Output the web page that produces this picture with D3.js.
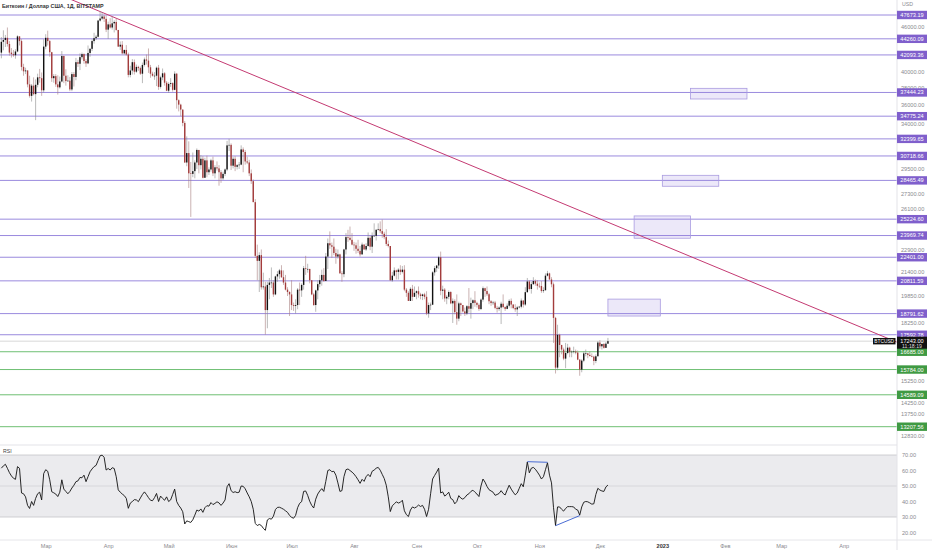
<!DOCTYPE html>
<html><head><meta charset="utf-8">
<script src="https://cdn.jsdelivr.net/npm/d3@7/dist/d3.min.js"></script>
<style>body{margin:0;background:#fff}svg{display:block}</style>
</head><body><svg id="c" width="932" height="550"></svg>
<script>
// ---------- DATA ----------
const title = "Биткоин / Доллар США, 1Д, BITSTAMP";
const firstDay = [2022, 1, 7]; // 7 Feb 2022, one candle per day
// [open, high, low, close]
const ohlc = [
// Feb
[42400,44500,41650,43850],[43850,45450,42700,44100],[44100,44800,43150,44400],[44400,45850,43200,43550],
[43550,43950,42000,42400],[42400,43000,41750,42200],[42200,42750,41850,42050],[42050,42850,41600,42550],
[42550,44750,42450,44600],[44600,44600,43350,43950],[43950,44200,40100,40550],[40550,40950,39450,40000],
[40000,40450,39650,40100],[40100,40150,38050,38400],[38400,39450,36850,37050],[37050,38450,36400,38250],
[38250,39250,37100,37250],[37250,39000,34350,38350],[38350,39700,38050,39250],[39250,40300,38600,39150],
[39150,39850,37050,37700],[37700,44200,37450,43200],
// Mar
[43200,44900,42850,44400],[44400,45400,43350,43950],[43950,44100,41850,42450],[42450,42500,38700,39150],
[39150,39650,38600,39400],[39400,39650,38100,38400],[38400,39500,37200,38050],[38050,39350,37900,38750],
[38750,42600,38650,41950],[41950,42000,38550,39450],[39450,40250,38250,38800],[38800,39500,38700,38850],
[38850,39300,37600,37800],[37800,39900,37600,39650],[39650,39900,38150,39300],[39300,41700,38900,41150],
[41150,41450,40550,40950],[40950,42300,40150,41800],[41800,42400,41500,42200],[42200,42300,40950,41300],
[41300,41550,40550,41000],[41000,43350,40900,42350],[42350,43000,41850,42900],[42900,44200,42600,43950],
[43950,45100,43600,44350],[44350,44800,44100,44550],[44550,46950,44450,46850],[46850,48190,46700,47150],
[47150,48100,46950,47450],[47450,47700,46650,47100],[47100,47600,45200,45550],
// Apr
[45550,46700,44250,46300],[46300,47200,45700,45850],[45850,47450,45550,46450],[46450,46900,45150,46650],
[46650,47150,45400,45500],[45500,45500,43150,43200],[43200,43900,42750,43450],[43450,43950,42150,42300],
[42300,42800,42150,42750],[42750,43400,42000,42150],[42150,42400,39250,39550],[39550,40700,39250,40100],
[40100,41550,39600,41150],[41150,41500,39600,39950],[39950,40850,39800,40550],[40550,40700,40050,40400],
[40400,40600,39550,39700],[39700,41100,38550,40800],[40800,41750,40600,41500],[41500,42150,40850,41350],
[41350,42950,39800,40500],[40500,40800,39200,39700],[39700,39950,39350,39450],[39450,39900,38950,39450],
[39450,40600,38200,40450],[40450,40800,37750,38100],[38100,39450,37900,39250],[39250,40350,38900,39750],
[39750,39900,38250,38600],[38600,38800,37600,37650],
// May
[37650,38650,37400,38450],[38450,39150,38100,38550],[38550,38650,37550,37750],[37750,40000,37700,39700],
[39700,39800,35600,36550],[36550,36650,35300,36050],[36050,36150,34800,35500],[35500,35500,33700,34050],
[34050,34250,30050,30100],[30100,32650,29750,31000],[31000,32150,27800,29100],[29100,30150,25400,29050],
[29050,31050,28750,29300],[29300,30300,28650,30100],[30100,31450,29500,31300],[31300,31300,29100,29850],
[29850,30800,29450,30450],[30450,30700,28650,28700],[28700,30550,28700,30300],[30300,30750,28750,29200],
[29200,29650,28950,29450],[29450,30450,29250,30300],[30300,30650,28850,29100],[29100,29850,28650,29650],
[29650,30200,29350,29550],[29550,29850,28000,29200],[29200,29400,28250,28650],[28650,29250,28500,29050],
[29050,29550,28850,29450],[29450,32200,29300,31750],[31750,32400,31200,31800],
// Jun
[31800,31950,29400,29800],[29800,30650,29550,30450],[30450,30700,29300,29700],[29700,29950,29450,29850],
[29850,30150,29500,29900],[29900,31750,29850,31350],[31350,31550,29200,31100],[31100,31300,29900,30200],
[30200,30650,29950,30100],[30100,30350,28850,29100],[29100,29450,28150,28400],[28400,28550,26600,26600],
[26600,26850,22350,22500],[22500,23300,20850,22150],[22150,22750,20100,22550],[22550,22950,20250,20400],
[20400,21350,20250,20450],[20450,20750,17600,19000],[19000,20750,17950,20550],[20550,21000,19650,20700],
[20700,21700,20350,20700],[20700,20850,19800,19950],[19950,21150,19900,21100],[21100,21450,20750,21250],
[21250,21600,20950,21500],[21500,21850,21000,21050],[21050,21500,20550,20700],[20700,21200,20200,20250],
[20250,20400,19850,20100],[20100,20150,18650,19950],
// Jul
[19950,20850,19000,19300],[19300,19450,18950,19250],[19250,19650,18800,19300],[19300,20350,19050,20250],
[20250,20700,19300,20200],[20200,20650,19800,20550],[20550,21800,20250,21650],[21650,22500,21200,21600],
[21600,21950,21350,21600],[21600,21600,20650,20850],[20850,20850,19900,19950],[19950,20050,19250,19300],
[19300,20250,18900,20200],[20200,20850,19650,20600],[20600,21200,20400,20850],[20850,21550,20500,21200],
[21200,21650,20750,20800],[20800,22700,20800,22450],[22450,23750,21600,23400],[23400,24280,23000,23250],
[23250,23450,22350,23150],[23150,23750,22550,22700],[22700,23000,21950,22450],[22450,22950,22300,22600],
[22600,22650,21300,21300],[21300,21450,20750,21250],[21250,23000,21050,22950],[22950,24150,22600,23850],
[23850,24400,23500,23800],[23800,24650,23600,23650],[23650,24150,23250,23300],
// Aug
[23300,23500,22850,23250],[23250,23450,22650,23000],[23000,23650,22700,22850],[22850,23200,22450,22600],
[22600,23450,22600,23300],[23300,23350,22950,22950],[22950,23400,22850,23200],[23200,24200,23150,23800],
[23800,23950,22900,23150],[23150,24200,22700,23950],[23950,24900,23900,23950],[23950,24450,23600,24400],
[24400,24900,24350,24450],[24450,25050,24150,24300],[24300,25200,23800,24100],[24100,24250,23700,23850],
[23850,24450,23200,23350],[23350,23600,23100,23200],[23200,23200,20800,20850],[20850,21400,20750,21150],
[21150,21700,21100,21500],[21500,21550,20900,21400],[21400,21650,20900,21550],[21550,21850,21200,21400],
[21400,21800,21300,21550],[21550,21850,20150,20250],[20250,20350,19800,20050],[20050,20150,19550,19550],
[19550,20400,19550,20300],[20300,20550,19550,19800],[19800,20450,19800,20050],
// Sep
[20050,20200,19650,20150],[20150,20450,19750,19950],[19950,20050,19650,19850],[19850,20000,19600,19950],
[19950,20050,19650,19800],[19800,20150,18700,18800],[18800,19450,18550,19300],[19300,19450,19000,19320],
[19320,21450,19300,21370],[21370,21800,21150,21650],[21650,21850,21400,21830],[21830,22500,21600,22400],
[22400,22800,19900,20180],[20180,20500,19650,20250],[20250,20350,19500,19700],[19700,19900,19350,19800],
[19800,20200,19650,20100],[20100,20150,19350,19400],[19400,19700,18250,19550],[19550,19650,18750,18880],
[18880,19950,18150,18500],[18500,19500,18350,19400],[19400,19450,18650,19300],[19300,19300,18850,18920],
[18920,19150,18650,18800],[18800,19300,18700,19230],[19230,20350,18850,19080],[19080,19750,18500,19420],
[19420,19650,19050,19590],[19590,20150,19200,19430],
// Oct
[19430,19500,19150,19310],[19310,19400,18950,19060],[19060,19700,19000,19630],[19630,20450,19500,20340],
[20340,20370,19800,20160],[20160,20450,19850,19960],[19960,20050,19350,19530],[19530,19600,19250,19420],
[19420,19550,19300,19450],[19450,19550,19050,19130],[19130,19250,18850,19060],[19060,19220,18950,19150],
[19150,19500,18190,19380],[19380,19950,19100,19180],[19180,19220,18950,19070],[19070,19400,19050,19260],
[19260,19650,19150,19550],[19550,19700,19100,19330],[19330,19350,19050,19120],[19120,19350,18900,19040],
[19040,19250,18650,19160],[19160,19250,19100,19200],[19200,19700,19100,19570],[19570,19600,19150,19330],
[19330,20400,19250,20090],[20090,21000,20050,20770],[20770,20850,20200,20290],[20290,20750,20000,20600],
[20600,21050,20550,20800],[20800,20900,20500,20630],[20630,20850,20250,20490],
// Nov
[20490,20700,20350,20480],[20480,20800,20050,20160],[20160,20400,20050,20210],[20210,21300,20200,21150],
[21150,21470,21100,21300],[21300,21350,20900,20900],[20900,21050,20400,20590],[20590,20700,17150,18540],
[18540,18600,15590,15880],[15880,18150,15750,17590],[17590,17650,16400,17040],[17040,17050,16550,16800],
[16800,16900,16250,16330],[16330,17150,15850,16620],[16620,17100,16550,16900],[16900,16950,16400,16660],
[16660,16750,16400,16690],[16690,16950,16600,16700],[16700,16800,16550,16640],[16640,16750,16250,16280],
[16280,16300,15480,15780],[15780,16300,15650,16230],[16230,16700,16150,16600],[16600,16800,16450,16600],
[16600,16620,16350,16520],[16520,16700,16450,16460],[16460,16600,16400,16430],[16430,16480,16000,16210],
[16210,16550,16100,16450],[16450,17250,16450,17170],
// Dec
[17170,17300,16850,16970],[16970,17100,16800,17090],[17090,17150,16850,16890],[16890,17200,16880,17110],
[17110,17420,17100,17243]
];
// RSI(14), one value per candle
const rsi = [
61.5,63,64,61.4,58.6,56.5,55,54.3,62.5,61.4,
45.5,45,43,37.5,35.5,40,37.5,42,45,46,
41,58,60.5,59.5,54,46.3,45.6,44.8,43.2,46,
54,48,46.5,45,46.5,48.7,50.5,52.8,53.3,55.5,
55.3,57,52.8,56,59.2,61,62.5,63.3,66.5,69.5,
69.9,68.5,60.3,61.3,60.3,61.8,61.3,56,47.5,46,
44.8,43.8,42,35.6,39,40,41.2,41,39.9,42.3,
44.5,46.2,44.5,42.5,40.8,40.5,42.5,45.2,40,43.5,
42,40.8,43,40,41,44.5,48,40,37.5,35.8,
33.4,25.5,27.5,27,26.5,28.2,31.2,34.5,33.8,35.2,
33,36,37.3,37,39.3,38,38.8,39.8,39.1,37.5,
39,41,49.5,51.5,47,45.8,46.3,45.7,46,50,
49.8,48.2,45.5,43,40,35,25.8,24.5,25.2,24.5,
22.7,21.4,28.1,29,28.6,30.5,34.8,36.2,36.3,35.7,
35,34,33,31,29.8,29.2,31,36,38.8,39.9,
46.5,46.8,44,40.2,37.5,35.8,41.5,44.8,46.8,48.3,
46.5,53,60,60.5,59.2,59.5,57,52,46.5,47,
56,60.5,61,60,59,57.7,56,54,51.7,54.3,
53,56,57.5,56,59.5,60.3,61.5,62,60.2,57.5,
54.8,50.5,43,33.5,37.2,38.5,39.8,39,39.5,40.8,
34,31.5,30.3,34.5,36.5,35.8,36.5,37.7,36.8,37.5,
35,30.3,35,45,54.5,56.8,59,61.5,45.5,46.2,
43.5,44.5,46,42,41.2,38.5,40,43.8,42.2,41.5,
42.5,44.2,45,46.5,47.3,46,44.8,43.2,50,54.5,
52.5,49.7,47.6,46.8,46,44,44.5,45.2,47,45.2,
44.2,47.5,50.5,48,46,44.3,45.5,48.5,51.5,49.5,
57,65.5,58.5,61.5,62,60.8,59,57,54.5,56,
60.5,65,57,52,36,24.5,36.5,36.5,35,33.8,
35.5,36.7,36.7,36.7,36.5,35,34.5,31.2,36.5,39.5,
40,39.8,39.1,38.3,38.5,44.5,48.5,47.4,46.8,46.5,
49.4,50.6
];
const purpleLevels = [47673.19,44260.09,42093.36,37444.23,34775.24,32399.65,30718.66,28465.49,25224.60,23969.74,22401.00,20811.59,18791.62,17592.78];
const greenLevels = [16685.00,15784.00,14589.09,13207.56];
// axis ticks that remain readable next to the level labels
const priceTicks = [46000,40000,38000,36000,34000,29500,27300,26100,22900,21400,19850,18250,15250,14250,13750,12830];
const rsiTicks = [20,30,40,50,60,70];
const rsiBands = [70,50,30];
const monthDates = ["2022-03-01","2022-04-01","2022-05-01","2022-06-01","2022-07-01","2022-08-01","2022-09-01","2022-10-01","2022-11-01","2022-12-01","2023-01-01","2023-02-01","2023-03-01","2023-04-01"];
const monthLabels = ["Мар","Апр","Май","Июн","Июл","Авг","Сен","Окт","Ноя","Дек","2023","Фев","Мар","Апр"];
const zoneFrom = ["2023-01-15","2023-01-01","2022-12-18","2022-12-05"];
const zoneTo   = ["2023-02-12","2023-01-29","2023-01-15","2022-12-31"];
const zoneLow  = [36690,27950,23770,18650];
const zoneHigh = [37930,28920,25480,19660];
const trendDates = ["2022-03-28","2023-04-25"];
const trendPrices = [48190,17300];
const divTopDates = ["2022-10-26","2022-11-05"], divTopVals = [65.7,65.3];
const divBotDates = ["2022-11-09","2022-11-21"], divBotVals = [24.4,30.9];
const lastPrice = 17243.00, lastTime = "11:18:19", symbol = "BTCUSD";

// ---------- LAYOUT ----------
const W = 932, H = 550, plotR = 897, mainB = 445, rsiT = 445, rsiB = 540;
const font = "'Liberation Sans', Arial, sans-serif";
const svg = d3.select("#c").attr("font-family", font);
const parse = s => new Date(s + "T00:00:00Z");
const dates = ohlc.map((_, i) => new Date(Date.UTC(firstDay[0], firstDay[1], firstDay[2] + i)));

const x = d3.scaleUtc().domain([parse("2022-03-01"), parse("2023-04-01")]).range([45.7, 843.7]);
const y = d3.scaleLog().domain([13207.56, 47673.19]).range([426.7, 15]);
const yr = d3.scaleLinear().domain([30, 70]).range([517, 455]);

const defs = svg.append("defs");
defs.append("clipPath").attr("id", "cm").append("rect").attr("x", 0).attr("y", 0).attr("width", plotR).attr("height", mainB);
defs.append("clipPath").attr("id", "cr").append("rect").attr("x", 0).attr("y", rsiT).attr("width", plotR).attr("height", rsiB - rsiT);

svg.append("rect").attr("width", W).attr("height", H).attr("fill", "#fff");

// ---------- MAIN PANE ----------
const main = svg.append("g").attr("clip-path", "url(#cm)");

main.selectAll(".pl").data(purpleLevels).join("line")
  .attr("x1", 0).attr("x2", plotR).attr("y1", d => y(d)).attr("y2", d => y(d))
  .attr("stroke", "#9a8ade").attr("stroke-width", 1);
main.selectAll(".gl").data(greenLevels).join("line")
  .attr("x1", 0).attr("x2", plotR).attr("y1", d => y(d)).attr("y2", d => y(d))
  .attr("stroke", "#6fbf73").attr("stroke-width", 1);

main.selectAll(".zone").data(zoneFrom).join("rect")
  .attr("x", (d, i) => x(parse(d)))
  .attr("width", (d, i) => x(parse(zoneTo[i])) - x(parse(d)))
  .attr("y", (d, i) => y(zoneHigh[i]))
  .attr("height", (d, i) => y(zoneLow[i]) - y(zoneHigh[i]))
  .attr("fill", "rgba(149,128,220,0.18)").attr("stroke", "#a99be0").attr("stroke-width", 0.8);

main.append("line").attr("x1", 0).attr("x2", plotR).attr("y1", y(lastPrice)).attr("y2", y(lastPrice))
  .attr("stroke", "#c8c8c8").attr("stroke-width", 0.7);

{
  const ax = x(parse(trendDates[0])), ay = y(trendPrices[0]);
  const bx = x(parse(trendDates[1])), by = y(trendPrices[1]);
  const k = (by - ay) / (bx - ax);
  main.append("line").attr("x1", 0).attr("y1", ay + k * (0 - ax)).attr("x2", plotR).attr("y2", ay + k * (plotR - ax))
    .attr("stroke", "#c43a72").attr("stroke-width", 1);
}

const cg = main.append("g");
const bw = 1.4;
cg.selectAll(".wick").data(ohlc).join("line")
  .attr("x1", (d, i) => x(dates[i])).attr("x2", (d, i) => x(dates[i]))
  .attr("y1", d => y(d[1])).attr("y2", d => y(d[2]))
  .attr("stroke", d => d[3] >= d[0] ? "#8c8c8c" : "#a88080").attr("stroke-width", 0.6);
cg.selectAll(".body").data(ohlc).join("rect")
  .attr("x", (d, i) => x(dates[i]) - bw / 2).attr("width", bw)
  .attr("y", d => y(Math.max(d[0], d[3])))
  .attr("height", d => Math.max(0.6, Math.abs(y(d[0]) - y(d[3]))))
  .attr("fill", d => d[3] >= d[0] ? "#111" : "#a33c3c");

svg.append("text").attr("x", 2).attr("y", 8).attr("font-size", 5.4).attr("font-weight", 700)
  .attr("fill", "#333").text(title);

// ---------- RSI PANE ----------
const rp = svg.append("g").attr("clip-path", "url(#cr)");
rp.append("rect").attr("x", 0).attr("width", plotR).attr("y", yr(70)).attr("height", yr(30) - yr(70)).attr("fill", "#ebebee");
rp.selectAll(".band").data(rsiBands).join("line")
  .attr("x1", 0).attr("x2", plotR).attr("y1", d => yr(d)).attr("y2", d => yr(d))
  .attr("stroke", d => d === 50 ? "#d2d2d6" : "#c4c4c8").attr("stroke-width", 0.8);
rp.append("path").datum(rsi)
  .attr("d", d3.line().x((d, i) => x(dates[i])).y(d => yr(d)))
  .attr("fill", "none").attr("stroke", "#111").attr("stroke-width", 0.9).attr("stroke-linejoin", "round");
[[divTopDates, divTopVals], [divBotDates, divBotVals]].forEach(([ds, vs]) => {
  rp.append("line").attr("x1", x(parse(ds[0]))).attr("y1", yr(vs[0])).attr("x2", x(parse(ds[1]))).attr("y2", yr(vs[1]))
    .attr("stroke", "#4a6cd4").attr("stroke-width", 1);
});
svg.append("text").attr("x", 3).attr("y", 453).attr("font-size", 5.2).attr("fill", "#444").text("RSI");

svg.append("line").attr("x1", 0).attr("x2", plotR).attr("y1", rsiT).attr("y2", rsiT).attr("stroke", "#e3e3e8").attr("stroke-width", 1);
svg.append("line").attr("x1", 0).attr("x2", W).attr("y1", rsiB).attr("y2", rsiB).attr("stroke", "#e6e6ea").attr("stroke-width", 1);
svg.append("line").attr("x1", plotR).attr("x2", plotR).attr("y1", 0).attr("y2", H).attr("stroke", "#e3e3e8").attr("stroke-width", 1);

// ---------- AXES ----------
const fmt = d3.format(".2f");
const yAx = svg.append("g").attr("transform", `translate(${plotR},0)`)
  .call(d3.axisRight(y).tickValues(priceTicks).tickFormat(fmt).tickSize(0).tickPadding(4));
yAx.select(".domain").remove();
yAx.selectAll("text").attr("font-size", 5.6).attr("fill", "#8a8a8f").attr("font-family", font);

const rAx = svg.append("g").attr("transform", `translate(${plotR},0)`)
  .call(d3.axisRight(yr).tickValues(rsiTicks).tickFormat(fmt).tickSize(0).tickPadding(5));
rAx.select(".domain").remove();
rAx.selectAll("text").attr("font-size", 5.6).attr("fill", "#8a8a8f").attr("font-family", font);

const xAx = svg.append("g").attr("transform", `translate(0,${rsiB + 1})`)
  .call(d3.axisBottom(x).tickValues(monthDates.map(parse)).tickFormat((d, i) => monthLabels[i]).tickSize(0).tickPadding(3));
xAx.select(".domain").remove();
xAx.selectAll("text").attr("font-size", 5.6).attr("font-family", font)
  .attr("fill", (d, i) => monthLabels[i] === "2023" ? "#333" : "#8a8a8f")
  .attr("font-weight", (d, i) => monthLabels[i] === "2023" ? 700 : 400);

svg.append("text").attr("x", 902).attr("y", 6).attr("font-size", 5.2).attr("fill", "#8a8a8f").text("USD");

function levelLabel(v, color) {
  const g = svg.append("g");
  g.append("rect").attr("x", plotR).attr("y", y(v) - 4.2).attr("width", 30).attr("height", 8.4).attr("fill", color);
  g.append("text").attr("x", plotR + 15).attr("y", y(v)).attr("dy", "0.35em").attr("text-anchor", "middle")
    .attr("font-size", 5.6).attr("fill", "#fff").text(fmt(v));
}
purpleLevels.forEach(v => levelLabel(v, "#7f5fcc"));
greenLevels.forEach(v => levelLabel(v, "#3f9a43"));

{
  const yp = y(lastPrice);
  svg.append("rect").attr("x", 873).attr("y", yp - 3.2).attr("width", 22.5).attr("height", 6.4).attr("fill", "#111");
  svg.append("text").attr("x", 884.2).attr("y", yp).attr("dy", "0.35em").attr("text-anchor", "middle")
    .attr("font-size", 4.8).attr("fill", "#fff").text(symbol);
  svg.append("rect").attr("x", plotR).attr("y", yp - 4.5).attr("width", 30).attr("height", 12).attr("fill", "#111");
  svg.append("text").attr("x", plotR + 15).attr("y", yp).attr("dy", "0.35em").attr("text-anchor", "middle")
    .attr("font-size", 5.6).attr("fill", "#fff").text(fmt(lastPrice));
  svg.append("text").attr("x", plotR + 15).attr("y", yp + 5).attr("dy", "0.35em").attr("text-anchor", "middle")
    .attr("font-size", 5.2).attr("fill", "#ddd").text(lastTime);
}
</script>
</body></html>
